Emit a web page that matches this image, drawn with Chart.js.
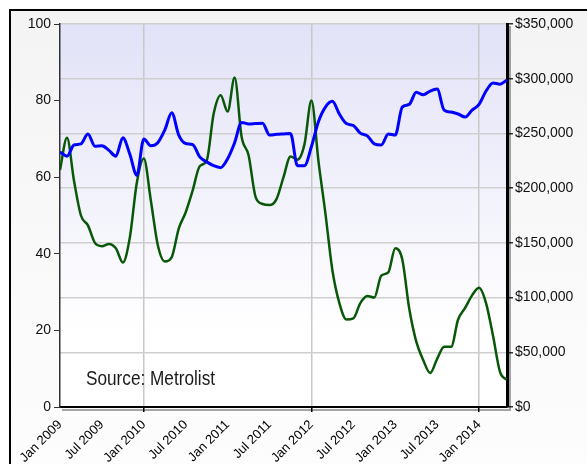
<!DOCTYPE html>
<html>
<head>
<meta charset="utf-8">
<script src="https://cdn.jsdelivr.net/npm/chart.js@4.4.1/dist/chart.umd.min.js"></script>
<style>
    html, body { margin: 0; padding: 0; background: #fff; }
    #wrap { width: 587px; height: 464px; }
</style>
</head>
<body>
<div id="wrap"><canvas id="chart" width="587" height="464"></canvas></div>
<script>
// Monthly values, Jan 2009 .. May 2014 (65 months)
const xTickLabels = [
    'Jan 2009', 'Jul 2009', 'Jan 2010', 'Jul 2010', 'Jan 2011', 'Jul 2011',
    'Jan 2012', 'Jul 2012', 'Jan 2013', 'Jul 2013', 'Jan 2014'
];

// blue line, left axis (0-100)
const blueSeries = [
    66.6, 65.5, 68.4, 68.7, 71.3, 68.1, 68.2, 67, 65.5, 70.3,
    66, 60.5, 70, 68.2, 69, 72.3, 76.8, 71, 68.8, 68.5,
    65.3, 64, 63, 62.5, 64.8, 69, 74.3, 73.9, 74, 74.1,
    71, 71.2, 71.3, 71.4, 63, 63, 68, 74.5, 78.3, 79.8,
    76.5, 74, 73.5, 71.5, 70.8, 68.7, 68.4, 71.3, 71, 78.3,
    79, 82.2, 81.5, 82.5, 83, 77.5, 77, 76.5, 75.7, 77.5,
    79, 82.5, 84.6, 84.3, 85.4
];

// green line, right axis ($)
const greenSeries = [
    216600, 246000, 207000, 175000, 166000, 150000, 147000, 149000, 145000, 132000,
    155000, 205000, 227000, 189000, 148000, 133000, 137000, 163000, 178000, 198000,
    220000, 225000, 268000, 285000, 270000, 301000, 247000, 230000, 192000, 185500,
    184600, 190000, 210000, 229000, 226000, 240000, 280000, 225000, 177000, 125000,
    95000, 80000, 81000, 95000, 101500, 100000, 120000, 123000, 145000, 135000,
    90000, 60000, 43000, 31000, 44000, 55000, 55000, 80000, 90500, 102000,
    109000, 95000, 65000, 32000, 24700
];

const sourceText = 'Source: Metrolist';

Chart.defaults.font.family = "'Liberation Sans', Arial, sans-serif";

const toPoints = arr => arr.map((v, i) => ({ x: i, y: v }));
const isMajor = c => c.tick && c.tick.value % 24 === 12;

const framePlugin = {
    id: 'frame',
    beforeDraw(chart) {
        const { ctx, chartArea: a, width, height } = chart;
        ctx.save();
        ctx.fillStyle = '#fff';
        ctx.fillRect(0, 0, width, height);

        const outer = ctx.createLinearGradient(0, 10, 0, height);
        outer.addColorStop(0, '#f4f4f4');
        outer.addColorStop(1, '#fdfdfd');
        ctx.fillStyle = outer;
        ctx.fillRect(10, 10, width - 10, height - 10);

        ctx.strokeStyle = '#000';
        ctx.lineWidth = 2;
        ctx.beginPath();
        ctx.moveTo(10, height);
        ctx.lineTo(10, 10);
        ctx.lineTo(width, 10);
        ctx.stroke();

        const bg = ctx.createLinearGradient(0, a.top, 0, a.bottom);
        bg.addColorStop(0, '#e2e2f8');
        bg.addColorStop(0.8, '#ffffff');
        ctx.fillStyle = bg;
        ctx.fillRect(a.left, a.top, a.right - a.left, a.bottom - a.top);
        ctx.restore();
    },
    afterDraw(chart) {
        const { ctx, chartArea: a } = chart;
        ctx.save();
        // drop shadow of the plot frame
        ctx.strokeStyle = 'rgba(0,0,0,0.35)';
        ctx.lineWidth = 2;
        ctx.beginPath();
        ctx.moveTo(a.left + 2, a.bottom + 3);
        ctx.lineTo(a.right + 3, a.bottom + 3);
        ctx.lineTo(a.right + 3, a.top + 2);
        ctx.stroke();

        // source note
        ctx.font = "21px 'Liberation Sans', Arial, sans-serif";
        ctx.fillStyle = '#1a1a1a';
        ctx.textBaseline = 'alphabetic';
        const w = ctx.measureText(sourceText).width;
        ctx.translate(a.left + 26, a.bottom - 22);
        ctx.scale(129 / w, 1);
        ctx.fillText(sourceText, 0, 0);
        ctx.restore();
    }
};

new Chart(document.getElementById('chart'), {
    type: 'line',
    data: {
        datasets: [
            {
                label: 'Blue',
                data: toPoints(blueSeries),
                yAxisID: 'y',
                borderColor: '#0000ff',
                borderWidth: 3,
                pointRadius: 0,
                cubicInterpolationMode: 'monotone'
            },
            {
                label: 'Green',
                data: toPoints(greenSeries),
                yAxisID: 'y1',
                borderColor: '#085808',
                borderWidth: 2.5,
                pointRadius: 0,
                cubicInterpolationMode: 'monotone'
            }
        ]
    },
    options: {
        responsive: false,
        animation: false,
        layout: { padding: { top: 24, left: 0, right: 0, bottom: 0 } },
        plugins: { legend: { display: false }, tooltip: { enabled: false } },
        scales: {
            x: {
                type: 'linear',
                min: 0,
                max: 64,
                afterBuildTicks: s => { s.ticks = xTickLabels.map((_, i) => ({ value: i * 6 })); },
                afterFit: s => { s.height = 57; },
                grid: {
                    color: c => isMajor(c) ? '#c8c8c8' : 'rgba(0,0,0,0)',
                    tickColor: c => isMajor(c) ? '#000' : 'rgba(0,0,0,0)',
                    lineWidth: 1.5,
                    tickLength: 5
                },
                border: { color: '#000', width: 2 },
                ticks: {
                    autoSkip: false,
                    minRotation: 45,
                    maxRotation: 45,
                    padding: 5,
                    color: '#000',
                    font: { size: 13 },
                    callback: (v, i) => xTickLabels[i]
                }
            },
            y: {
                position: 'left',
                min: 0,
                max: 100,
                afterFit: s => { s.width = 60; },
                grid: { drawOnChartArea: false, tickLength: 6, tickColor: '#333' },
                border: { color: '#333', width: 1.5 },
                ticks: { stepSize: 20, padding: 3, color: '#111', font: { size: 14 } }
            },
            y1: {
                position: 'right',
                min: 0,
                max: 350000,
                afterFit: s => { s.width = 80; },
                grid: { color: '#cfcfcf', lineWidth: 1.5, tickLength: 6, tickColor: '#333' },
                border: { color: '#000', width: 3 },
                ticks: {
                    stepSize: 50000,
                    padding: 2,
                    color: '#111',
                    font: { size: 14 },
                    callback: v => '$' + v.toLocaleString('en-US')
                }
            }
        }
    },
    plugins: [framePlugin]
});
</script>
</body>
</html>
